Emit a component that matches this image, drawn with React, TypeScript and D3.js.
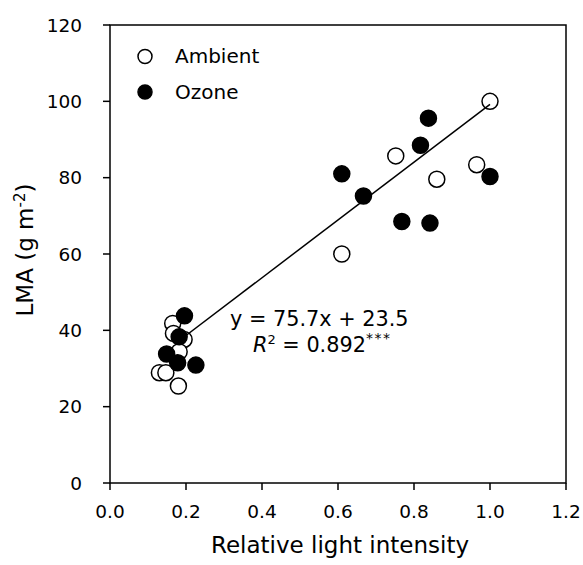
import React from "react";
import * as d3 from "d3";

const ambientX = [1.0, 0.752, 0.965, 0.86, 0.61, 0.165, 0.167, 0.195, 0.182, 0.13, 0.147, 0.18];
const ambientY = [100, 85.7, 83.4, 79.6, 60, 41.8, 39.2, 37.6, 34.4, 28.9, 28.9, 25.4];
const ozoneX = [0.838, 0.817, 1.0, 0.667, 0.768, 0.842, 0.61, 0.196, 0.182, 0.149, 0.178, 0.226];
const ozoneY = [95.6, 88.5, 80.3, 75.2, 68.5, 68.1, 81, 43.8, 38.3, 33.8, 31.5, 30.9];
const xTicks = [0, 0.2, 0.4, 0.6, 0.8, 1.0, 1.2];
const yTicks = [0, 20, 40, 60, 80, 100, 120];
const slope = 75.7;
const intercept = 23.5;
const fitRange = [0.2, 1.0];

const FONT = "DejaVu Sans, Verdana, sans-serif";

export default function App() {
  const W = 583, H = 565;
  const left = 110, right = 566, top = 25, bottom = 483;
  const x = d3.scaleLinear().domain([0, 1.2]).range([left, right]);
  const y = d3.scaleLinear().domain([0, 120]).range([bottom, top]);
  const line = d3.line<number>().x((d) => x(d)).y((d) => y(slope * d + intercept));
  const r = 8;
  return (
    <svg width={W} height={H} style={{ position: "absolute", left: 0, top: 0, background: "#fff" }} fontFamily={FONT}>
      <rect x={0} y={0} width={W} height={H} fill="#fff" />
      <rect x={left} y={top} width={right - left} height={bottom - top} fill="none" stroke="#000" strokeWidth={1.5} />
      {yTicks.map((t) => (
        <g key={"y" + t}>
          <line x1={left - 7} x2={left} y1={y(t)} y2={y(t)} stroke="#000" strokeWidth={1.5} />
          <text x={82} y={y(t)} dy="0.36em" textAnchor="end" fontSize={18.5}>{t}</text>
        </g>
      ))}
      {xTicks.map((t) => (
        <g key={"x" + t}>
          <line x1={x(t)} x2={x(t)} y1={bottom} y2={bottom + 7} stroke="#000" strokeWidth={1.5} />
          <text x={x(t)} y={518} textAnchor="middle" fontSize={18.5}>{t.toFixed(1)}</text>
        </g>
      ))}
      <text x={(left + right) / 2 + 2} y={553} textAnchor="middle" fontSize={23}>Relative light intensity</text>
      <text transform={`translate(33,${(top + bottom) / 2 - 4}) rotate(-90)`} textAnchor="middle" fontSize={23}>
        LMA (g m<tspan dy={-8} fontSize={15}>-2</tspan><tspan dy={8}>)</tspan>
      </text>
      {ambientX.map((v, i) => (
        <circle key={"a" + i} cx={x(v)} cy={y(ambientY[i])} r={r} fill="#fff" stroke="#000" strokeWidth={1.5} />
      ))}
      {ozoneX.map((v, i) => (
        <circle key={"o" + i} cx={x(v)} cy={y(ozoneY[i])} r={r} fill="#000" stroke="#000" strokeWidth={1.5} />
      ))}
      <path d={line(fitRange) || ""} fill="none" stroke="#000" strokeWidth={1.5} />
      <circle cx={145} cy={56.5} r={7} fill="#fff" stroke="#000" strokeWidth={1.5} />
      <text x={175} y={63} fontSize={20}>Ambient</text>
      <circle cx={145} cy={92} r={7} fill="#000" stroke="#000" strokeWidth={1.5} />
      <text x={175} y={98.5} fontSize={20}>Ozone</text>
      <text x={230} y={326} fontSize={20.8}>y = 75.7x + 23.5</text>
      <text x={253} y={352} fontSize={20.8}>
        <tspan fontStyle="italic">R</tspan>
        <tspan dy={-8} fontSize={13}>2</tspan>
        <tspan dy={8}> = 0.892</tspan>
        <tspan dy={-9} fontSize={14} letterSpacing={1.5}>***</tspan>
      </text>
    </svg>
  );
}
